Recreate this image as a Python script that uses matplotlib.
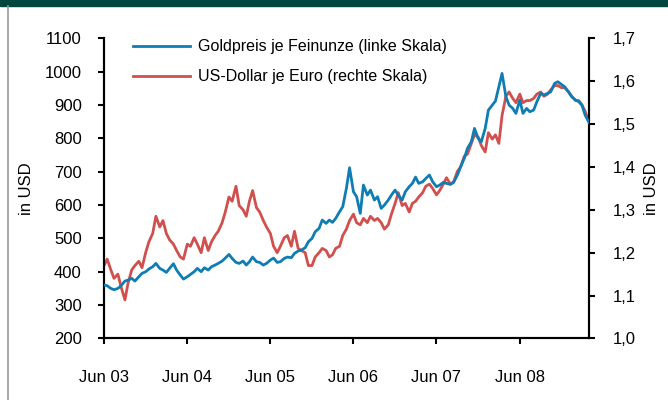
import matplotlib.pyplot as plt
import matplotlib.lines as mlines
import pandas as pd

# semi-monthly readings, Jun 2003 onwards
dates = pd.date_range("2003-06-01", periods=141, freq="SMS")

gold = [360, 358, 350, 346, 350, 358, 372, 375, 380, 372,
        385, 395, 400, 408, 415, 425, 410, 405, 398, 410,
        424, 405, 390, 378, 385, 392, 400, 410, 400, 412,
        405, 415, 420, 425, 432, 441, 452, 440, 428, 425,
        432, 420, 430, 444, 430, 428, 420, 425, 435, 441,
        428, 430, 440, 444, 442, 455, 462, 465, 472, 490,
        500, 520, 530, 555, 545, 555, 548, 560, 580, 595,
        650, 712, 640, 625, 575, 660, 630, 645, 615, 625,
        590, 600, 615, 630, 645, 630, 615, 640, 655, 665,
        684, 665, 670, 680, 690, 670, 655, 660, 668, 665,
        662, 668, 690, 715, 740, 770, 790, 830, 800, 790,
        830, 885, 900, 912, 955, 995, 925, 900, 890, 875,
        915, 875, 890, 880, 885, 910, 935, 930, 935, 940,
        965, 970, 962, 955, 940, 925, 915, 910, 900, 870,
        848]

usd_eur = [1.170, 1.185, 1.160, 1.140, 1.150, 1.120, 1.090, 1.130, 1.160, 1.170,
           1.180, 1.165, 1.200, 1.225, 1.245, 1.285, 1.260, 1.275, 1.245, 1.230,
           1.220, 1.205, 1.190, 1.185, 1.220, 1.215, 1.235, 1.220, 1.200, 1.235,
           1.205, 1.225, 1.240, 1.250, 1.270, 1.295, 1.330, 1.320, 1.355, 1.310,
           1.300, 1.285, 1.320, 1.345, 1.305, 1.295, 1.275, 1.260, 1.245, 1.215,
           1.200, 1.215, 1.235, 1.240, 1.215, 1.250, 1.210, 1.205, 1.200, 1.170,
           1.170, 1.190, 1.200, 1.210, 1.205, 1.190, 1.195, 1.210, 1.215, 1.240,
           1.255, 1.275, 1.290, 1.270, 1.265, 1.280, 1.270, 1.285, 1.275, 1.280,
           1.270, 1.255, 1.265, 1.290, 1.315, 1.340, 1.310, 1.315, 1.295, 1.315,
           1.320, 1.330, 1.340, 1.355, 1.360, 1.350, 1.335, 1.345, 1.360, 1.375,
           1.360, 1.365, 1.390, 1.400, 1.425, 1.430, 1.455, 1.475, 1.470, 1.450,
           1.435, 1.480, 1.465, 1.475, 1.455, 1.520, 1.565, 1.575, 1.560, 1.550,
           1.570, 1.550, 1.555, 1.555, 1.560, 1.570, 1.575, 1.565, 1.570, 1.580,
           1.590, 1.590, 1.585, 1.585, 1.575, 1.565, 1.555, 1.555, 1.545, 1.530,
           1.505]

tick_dates = pd.to_datetime(["2003-06-01", "2004-06-01", "2005-06-01",
                             "2006-06-01", "2007-06-01", "2008-06-01"])
tick_labels = ["Jun 03", "Jun 04", "Jun 05", "Jun 06", "Jun 07", "Jun 08"]
left_ticks = list(range(200, 1101, 100))
right_ticks = [1.0, 1.1, 1.2, 1.3, 1.4, 1.5, 1.6, 1.7]

label_gold = "Goldpreis je Feinunze (linke Skala)"
label_usd = "US-Dollar je Euro (rechte Skala)"

BLUE = "#0f7db3"
RED = "#d14f4d"
plt.rcParams["font.family"] = ["Liberation Sans", "DejaVu Sans"]

fig = plt.figure(figsize=(6.68, 4.0), dpi=100)

# dark band on top and grey frame line on the left
fig.patches.append(plt.Rectangle((0, 0.985), 1, 0.015, transform=fig.transFigure,
                                 color="#00463c", zorder=0))
fig.lines.append(mlines.Line2D([0.0125, 0.0125], [0, 0.985], transform=fig.transFigure,
                               color="#999999", lw=1.2))

ax = fig.add_axes([0.1557, 0.154, 0.7260, 0.750])
ax2 = ax.twinx()

ax.plot(dates, gold, color=BLUE, lw=2.0, zorder=3)
ax2.plot(dates, usd_eur, color=RED, lw=2.0, zorder=2)
ax.set_zorder(ax2.get_zorder() + 1)
ax.patch.set_visible(False)

ax.set_ylim(200, 1100)
ax2.set_ylim(1.0, 1.7)
ax.set_xlim(dates[0], dates[-1])
ax.set_yticks(left_ticks)
ax2.set_yticks(right_ticks)
ax2.set_yticklabels([f"{v:.1f}".replace(".", ",") for v in right_ticks])
ax.set_xticks(tick_dates)
ax.set_xticklabels(tick_labels)

for a in (ax, ax2):
    a.spines["top"].set_visible(False)
    for s in ("left", "right", "bottom"):
        a.spines[s].set_linewidth(1.5)
    a.tick_params(direction="out", length=4, width=1.5, labelsize=12, pad=12)
ax.tick_params(axis="x", pad=19)
ax2.tick_params(axis="y", pad=13)

ax.set_ylabel("in USD", fontsize=12, labelpad=8)
ax2.set_ylabel("in USD", fontsize=12, labelpad=6)

h1 = mlines.Line2D([], [], color=BLUE, lw=2.0)
h2 = mlines.Line2D([], [], color=RED, lw=2.0)
ax.legend([h1, h2], [label_gold, label_usd], loc="upper left",
          bbox_to_anchor=(0.03, 1.045), frameon=False, fontsize=11.5,
          handlelength=3.6, handletextpad=0.45, labelspacing=0.95)

fig.savefig("out.png", dpi=100)
